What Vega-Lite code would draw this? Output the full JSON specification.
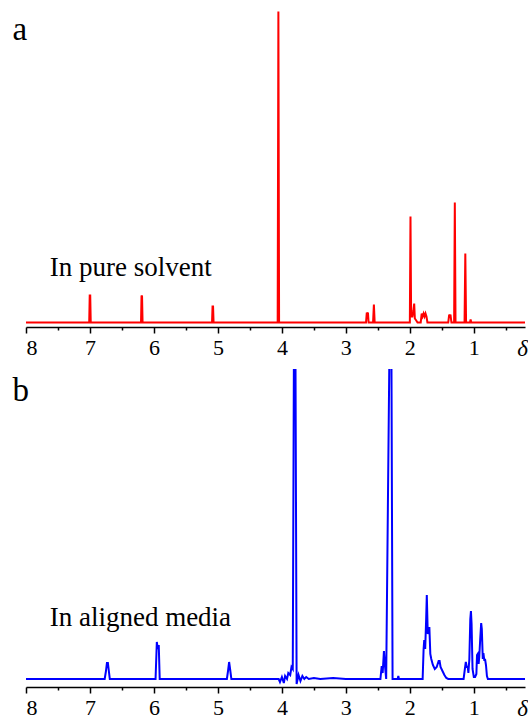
{
  "$schema": "https://vega.github.io/schema/vega-lite/v6.json",
  "padding": {"left": 12, "top": 9, "right": 0, "bottom": 0},
  "spacing": 42,
  "bounds": "flush",
  "config": {
    "view": {"stroke": null},
    "axis": {
      "domainColor": "black", "domainWidth": 1.5, "tickColor": "black", "tickWidth": 1.5,
      "labelFont": "Liberation Serif, Times New Roman, serif", "labelFontSize": 22, "labelColor": "black",
      "labelPadding": 4, "grid": false,
      "titleFont": "Liberation Serif, Times New Roman, serif", "titleFontStyle": "italic", "titleFontWeight": "normal",
      "titleFontSize": 23, "titleColor": "black"
    }
  },
  "datasets": {
    "a": [
      {"ppm": 8.0, "intensity": 0},
      {"ppm": 7.012, "intensity": 0}, {"ppm": 7.004, "intensity": 27}, {"ppm": 6.996, "intensity": 27}, {"ppm": 6.988, "intensity": 0},
      {"ppm": 6.202, "intensity": 0}, {"ppm": 6.194, "intensity": 27}, {"ppm": 6.186, "intensity": 26}, {"ppm": 6.178, "intensity": 0},
      {"ppm": 5.092, "intensity": 0}, {"ppm": 5.084, "intensity": 16}, {"ppm": 5.076, "intensity": 16}, {"ppm": 5.068, "intensity": 0},
      {"ppm": 4.066, "intensity": 0}, {"ppm": 4.055, "intensity": 311}, {"ppm": 4.044, "intensity": 0},
      {"ppm": 2.685, "intensity": 0}, {"ppm": 2.673, "intensity": 10}, {"ppm": 2.664, "intensity": 6}, {"ppm": 2.655, "intensity": 10}, {"ppm": 2.645, "intensity": 0},
      {"ppm": 2.575, "intensity": 0}, {"ppm": 2.562, "intensity": 18}, {"ppm": 2.55, "intensity": 0},
      {"ppm": 2.0, "intensity": 0}, {"ppm": 1.99, "intensity": 106}, {"ppm": 1.98, "intensity": 6}, {"ppm": 1.96, "intensity": 6}, {"ppm": 1.945, "intensity": 12}, {"ppm": 1.932, "intensity": 19}, {"ppm": 1.922, "intensity": 4}, {"ppm": 1.9, "intensity": 2}, {"ppm": 1.88, "intensity": 0},
      {"ppm": 1.83, "intensity": 0}, {"ppm": 1.815, "intensity": 9}, {"ppm": 1.8, "intensity": 6}, {"ppm": 1.785, "intensity": 9}, {"ppm": 1.77, "intensity": 6}, {"ppm": 1.755, "intensity": 9}, {"ppm": 1.74, "intensity": 6}, {"ppm": 1.725, "intensity": 0},
      {"ppm": 1.4, "intensity": 0}, {"ppm": 1.385, "intensity": 8}, {"ppm": 1.375, "intensity": 5}, {"ppm": 1.365, "intensity": 8}, {"ppm": 1.35, "intensity": 0},
      {"ppm": 1.308, "intensity": 0}, {"ppm": 1.297, "intensity": 120}, {"ppm": 1.286, "intensity": 0},
      {"ppm": 1.145, "intensity": 0}, {"ppm": 1.133, "intensity": 69}, {"ppm": 1.121, "intensity": 0},
      {"ppm": 1.06, "intensity": 0}, {"ppm": 1.05, "intensity": 3}, {"ppm": 1.04, "intensity": 0},
      {"ppm": 0.2, "intensity": 0}
    ],
    "b": [
      {"ppm": 8.0, "intensity": 0},
      {"ppm": 6.77, "intensity": 0}, {"ppm": 6.75, "intensity": 8}, {"ppm": 6.735, "intensity": 16}, {"ppm": 6.72, "intensity": 16}, {"ppm": 6.705, "intensity": 8}, {"ppm": 6.69, "intensity": 0},
      {"ppm": 5.975, "intensity": 0}, {"ppm": 5.955, "intensity": 37}, {"ppm": 5.94, "intensity": 30}, {"ppm": 5.925, "intensity": 34}, {"ppm": 5.91, "intensity": 0},
      {"ppm": 4.86, "intensity": 0}, {"ppm": 4.84, "intensity": 9}, {"ppm": 4.825, "intensity": 17}, {"ppm": 4.81, "intensity": 10}, {"ppm": 4.79, "intensity": 0},
      {"ppm": 4.05, "intensity": 0}, {"ppm": 4.03, "intensity": -3}, {"ppm": 4.0, "intensity": 2}, {"ppm": 3.97, "intensity": -4}, {"ppm": 3.95, "intensity": 3}, {"ppm": 3.92, "intensity": 0}, {"ppm": 3.9, "intensity": 6}, {"ppm": 3.87, "intensity": 4}, {"ppm": 3.85, "intensity": 12}, {"ppm": 3.83, "intensity": 10},
      {"ppm": 3.808, "intensity": 400}, {"ppm": 3.8, "intensity": 420}, {"ppm": 3.792, "intensity": 400},
      {"ppm": 3.77, "intensity": -5}, {"ppm": 3.74, "intensity": 4}, {"ppm": 3.71, "intensity": -2}, {"ppm": 3.68, "intensity": 3}, {"ppm": 3.65, "intensity": 0}, {"ppm": 3.62, "intensity": 2}, {"ppm": 3.58, "intensity": 0}, {"ppm": 3.5, "intensity": 1}, {"ppm": 3.4, "intensity": 0}, {"ppm": 3.2, "intensity": 1}, {"ppm": 3.0, "intensity": 0},
      {"ppm": 2.46, "intensity": 0}, {"ppm": 2.44, "intensity": 13}, {"ppm": 2.425, "intensity": 6}, {"ppm": 2.405, "intensity": 28}, {"ppm": 2.39, "intensity": 14}, {"ppm": 2.37, "intensity": 0},
      {"ppm": 2.308, "intensity": 400}, {"ppm": 2.3, "intensity": 420}, {"ppm": 2.292, "intensity": 400}, {"ppm": 2.27, "intensity": 0},
      {"ppm": 2.19, "intensity": 0}, {"ppm": 2.18, "intensity": 3}, {"ppm": 2.17, "intensity": 0},
      {"ppm": 1.8, "intensity": 0}, {"ppm": 1.785, "intensity": 30}, {"ppm": 1.775, "intensity": 39}, {"ppm": 1.76, "intensity": 30}, {"ppm": 1.745, "intensity": 60}, {"ppm": 1.735, "intensity": 84}, {"ppm": 1.72, "intensity": 45}, {"ppm": 1.705, "intensity": 50}, {"ppm": 1.695, "intensity": 52}, {"ppm": 1.68, "intensity": 25}, {"ppm": 1.665, "intensity": 20}, {"ppm": 1.64, "intensity": 14}, {"ppm": 1.61, "intensity": 10}, {"ppm": 1.58, "intensity": 12}, {"ppm": 1.55, "intensity": 18}, {"ppm": 1.535, "intensity": 18}, {"ppm": 1.52, "intensity": 12}, {"ppm": 1.49, "intensity": 8}, {"ppm": 1.46, "intensity": 4}, {"ppm": 1.43, "intensity": 1}, {"ppm": 1.4, "intensity": 0},
      {"ppm": 1.16, "intensity": 0}, {"ppm": 1.14, "intensity": 10}, {"ppm": 1.125, "intensity": 17}, {"ppm": 1.11, "intensity": 12}, {"ppm": 1.095, "intensity": 12}, {"ppm": 1.085, "intensity": 6}, {"ppm": 1.07, "intensity": 20}, {"ppm": 1.055, "intensity": 60}, {"ppm": 1.045, "intensity": 68}, {"ppm": 1.035, "intensity": 55}, {"ppm": 1.02, "intensity": 10}, {"ppm": 1.0, "intensity": 2}, {"ppm": 0.98, "intensity": 2}, {"ppm": 0.96, "intensity": 5}, {"ppm": 0.95, "intensity": 24}, {"ppm": 0.94, "intensity": 25}, {"ppm": 0.925, "intensity": 15}, {"ppm": 0.915, "intensity": 22}, {"ppm": 0.9, "intensity": 40}, {"ppm": 0.885, "intensity": 56}, {"ppm": 0.875, "intensity": 50}, {"ppm": 0.86, "intensity": 20}, {"ppm": 0.85, "intensity": 26}, {"ppm": 0.835, "intensity": 18}, {"ppm": 0.825, "intensity": 20}, {"ppm": 0.81, "intensity": 14}, {"ppm": 0.795, "intensity": 3}, {"ppm": 0.78, "intensity": 0},
      {"ppm": 0.2, "intensity": 0}
    ],
    "panelA": [{"ppm": 8.21, "intensity": 282.5, "label": "a"}],
    "panelB": [{"ppm": 8.21, "intensity": 278, "label": "b"}],
    "noteA": [{"ppm": 7.63, "intensity": 46.5, "label": "In pure solvent"}],
    "noteB": [{"ppm": 7.63, "intensity": 53, "label": "In aligned media"}]
  },
  "vconcat": [
    {
      "width": 499, "height": 318,
      "resolve": {"axis": {"x": "independent"}},
      "layer": [
        {
          "data": {"name": "a"},
          "mark": {"type": "line", "color": "#ff0000", "strokeWidth": 2, "clip": true},
          "encoding": {
            "x": {"field": "ppm", "type": "quantitative", "scale": {"domain": [0.2, 8], "reverse": true, "nice": false, "zero": false},
                  "axis": {"orient": "bottom", "values": [8, 7, 6, 5, 4, 3, 2, 1], "tickSize": 6, "format": "d", "title": "δ", "titleX": 496, "titleY": 28, "titleAlign": "center", "titleBaseline": "alphabetic"}},
            "y": {"field": "intensity", "type": "quantitative", "scale": {"domain": [-4.5, 313.5], "nice": false, "zero": false}, "axis": null}
          }
        },
        {
          "data": {"name": "panelA"},
          "mark": {"type": "text", "font": "Liberation Serif, Times New Roman, serif", "fontSize": 33, "color": "black", "align": "left", "baseline": "alphabetic"},
          "encoding": {
            "x": {"field": "ppm", "type": "quantitative", "scale": {"domain": [0.2, 8], "reverse": true, "nice": false, "zero": false},
                  "axis": {"orient": "bottom", "values": [7.5, 6.5, 5.5, 4.5, 3.5, 2.5, 1.5, 0.5], "tickSize": 3, "labels": false, "domain": false, "title": null}},
            "y": {"field": "intensity", "type": "quantitative", "scale": {"domain": [-4.5, 313.5], "nice": false, "zero": false}, "axis": null},
            "text": {"field": "label"}
          }
        },
        {
          "data": {"name": "noteA"},
          "mark": {"type": "text", "font": "Liberation Serif, Times New Roman, serif", "fontSize": 27, "color": "black", "align": "left", "baseline": "alphabetic"},
          "encoding": {
            "x": {"field": "ppm", "type": "quantitative", "scale": {"domain": [0.2, 8], "reverse": true, "nice": false, "zero": false}, "axis": null},
            "y": {"field": "intensity", "type": "quantitative", "scale": {"domain": [-4.5, 313.5], "nice": false, "zero": false}, "axis": null},
            "text": {"field": "label"}
          }
        }
      ]
    },
    {
      "width": 499, "height": 318,
      "resolve": {"axis": {"x": "independent"}},
      "layer": [
        {
          "data": {"name": "b"},
          "mark": {"type": "line", "color": "#0000ff", "strokeWidth": 2, "clip": true},
          "encoding": {
            "x": {"field": "ppm", "type": "quantitative", "scale": {"domain": [0.2, 8], "reverse": true, "nice": false, "zero": false},
                  "axis": {"orient": "bottom", "values": [8, 7, 6, 5, 4, 3, 2, 1], "tickSize": 6, "format": "d", "title": "δ", "titleX": 496, "titleY": 28, "titleAlign": "center", "titleBaseline": "alphabetic"}},
            "y": {"field": "intensity", "type": "quantitative", "scale": {"domain": [-8, 310], "nice": false, "zero": false}, "axis": null}
          }
        },
        {
          "data": {"name": "panelB"},
          "mark": {"type": "text", "font": "Liberation Serif, Times New Roman, serif", "fontSize": 33, "color": "black", "align": "left", "baseline": "alphabetic"},
          "encoding": {
            "x": {"field": "ppm", "type": "quantitative", "scale": {"domain": [0.2, 8], "reverse": true, "nice": false, "zero": false},
                  "axis": {"orient": "bottom", "values": [7.5, 6.5, 5.5, 4.5, 3.5, 2.5, 1.5, 0.5], "tickSize": 3, "labels": false, "domain": false, "title": null}},
            "y": {"field": "intensity", "type": "quantitative", "scale": {"domain": [-8, 310], "nice": false, "zero": false}, "axis": null},
            "text": {"field": "label"}
          }
        },
        {
          "data": {"name": "noteB"},
          "mark": {"type": "text", "font": "Liberation Serif, Times New Roman, serif", "fontSize": 27, "color": "black", "align": "left", "baseline": "alphabetic"},
          "encoding": {
            "x": {"field": "ppm", "type": "quantitative", "scale": {"domain": [0.2, 8], "reverse": true, "nice": false, "zero": false}, "axis": null},
            "y": {"field": "intensity", "type": "quantitative", "scale": {"domain": [-8, 310], "nice": false, "zero": false}, "axis": null},
            "text": {"field": "label"}
          }
        }
      ]
    }
  ]
}
